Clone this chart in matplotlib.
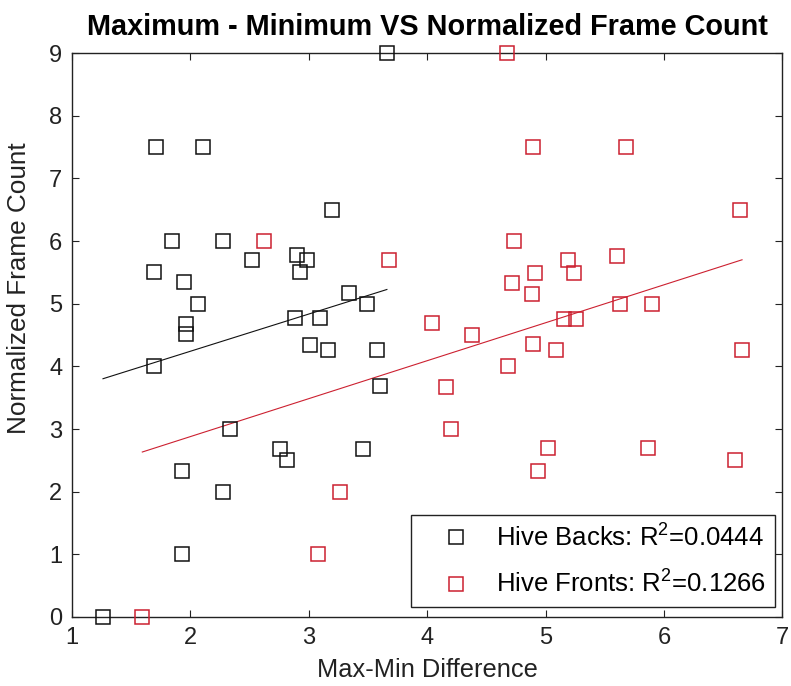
import numpy as np
import matplotlib.pyplot as plt

plt.rcParams['font.family'] = ['Liberation Sans', 'DejaVu Sans']
plt.rcParams['mathtext.fontset'] = 'custom'
plt.rcParams['mathtext.rm'] = 'Liberation Sans'
plt.rcParams['mathtext.default'] = 'regular'

# hive backs (black)
backs_x = [3.66, 1.71, 2.107, 3.194, 1.845, 2.273, 2.524, 2.901, 2.986, 2.93,
           1.696, 1.944, 2.065, 3.344, 3.49, 2.887, 3.093, 1.966, 1.966, 3.008,
           3.16, 3.577, 1.696, 3.606, 2.332, 2.76, 2.817, 3.454, 1.932, 2.273,
           1.932, 1.262]
backs_y = [9.0, 7.5, 7.5, 6.5, 6.0, 6.0, 5.69, 5.77, 5.69, 5.5,
           5.5, 5.34, 5.0, 5.17, 5.0, 4.77, 4.77, 4.68, 4.51, 4.34,
           4.26, 4.26, 4.0, 3.68, 3.0, 2.68, 2.5, 2.68, 2.33, 2.0,
           1.0, 0.0]

# hive fronts (red)
fronts_x = [4.673, 4.898, 5.676, 6.645, 4.73, 2.623, 5.603, 5.189, 3.68, 4.91,
            5.242, 4.718, 4.885, 5.631, 5.899, 5.152, 5.259, 4.04, 4.378, 4.893,
            5.09, 6.66, 4.687, 4.16, 4.2, 5.02, 5.865, 4.935, 6.603, 3.262,
            3.076, 1.594]
fronts_y = [9.0, 7.5, 7.5, 6.5, 6.0, 6.0, 5.76, 5.69, 5.69, 5.49,
            5.49, 5.33, 5.15, 4.99, 4.99, 4.76, 4.76, 4.69, 4.5, 4.35,
            4.26, 4.26, 4.0, 3.67, 3.0, 2.69, 2.69, 2.33, 2.5, 2.0,
            1.0, 0.0]

backs_label = r'Hive Backs: R$^2$=0.0444'
fronts_label = r'Hive Fronts: R$^2$=0.1266'

black = '#111111'
red = '#cc2030'
grey = '#222222'

fig = plt.figure(figsize=(7.91, 6.86), dpi=100)
ax = fig.add_axes([0.091, 0.1006, 0.898, 0.8221])

def fit_line(x, y):
  x = np.array(x)
  p = np.polyfit(x, y, 1)
  xs = np.sort(x)
  return xs, np.polyval(p, xs)

ax.plot(backs_x, backs_y, 's', mfc='none', mec=black, ms=9.5, mew=1.1,
        label=backs_label, clip_on=False, zorder=3)
ax.plot(fronts_x, fronts_y, 's', mfc='none', mec=red, ms=9.5, mew=1.1,
        label=fronts_label, clip_on=False, zorder=3)

xs, ys = fit_line(backs_x, backs_y)
ax.plot(xs, ys, '-', color=black, lw=0.8)
xs, ys = fit_line(fronts_x, fronts_y)
ax.plot(xs, ys, '-', color=red, lw=0.8)

ax.set_xlim(1, 7)
ax.set_ylim(0, 9)
ax.set_xticks(range(1, 8))
ax.set_yticks(range(0, 10))
ax.tick_params(direction='in', length=5, width=0.8, top=True, right=True,
               labelsize=17, pad=7, colors=grey)
for s in ax.spines.values():
  s.set_linewidth(1.0)
  s.set_color(grey)

ax.set_title('Maximum - Minimum VS Normalized Frame Count', fontsize=20.8,
             fontweight='bold', pad=13)
ax.set_xlabel('Max-Min Difference', fontsize=18.3, labelpad=7, color=grey)
ax.set_ylabel('Normalized Frame Count', fontsize=18.8, color=grey)
ax.yaxis.set_label_coords(-0.057, 0.583)

leg = ax.legend(loc='lower right', bbox_to_anchor=(0.990, 0.018), borderaxespad=0,
                fontsize=18.5, fancybox=False, edgecolor=grey, framealpha=1,
                handlelength=2.8, handletextpad=0.15, labelspacing=0.75,
                borderpad=0.35)
leg.get_frame().set_linewidth(1.0)

plt.savefig('out.png', dpi=100)
